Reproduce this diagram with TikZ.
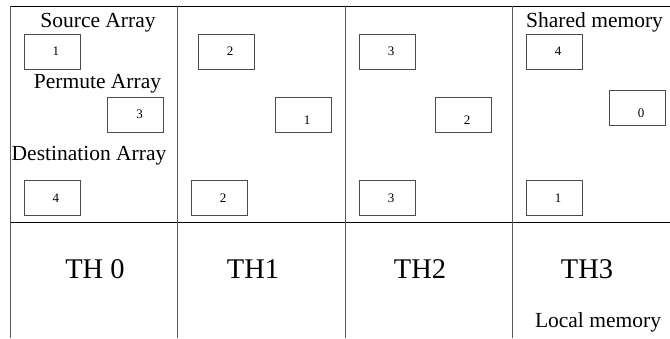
\documentclass[tikz,border=0pt]{standalone}
\usepackage{fontspec}
\setmainfont{Liberation Serif}
\usetikzlibrary{positioning}

\begin{document}
\begin{tikzpicture}[x=1pt, y=-1pt,
    cell/.style={rectangle, draw=black!70, line width=0.8pt, minimum width=56pt, minimum height=35pt,
                 inner sep=0pt, font=\fontsize{13}{15}\selectfont,
                 execute at begin node=\hspace*{8pt}},
    low/.style={text height=19pt, text depth=0pt},
    head/.style={anchor=base, inner sep=0pt, font=\fontsize{21.5}{25}\selectfont},
    thread/.style={anchor=base, inner sep=0pt, font=\fontsize{28.5}{32}\selectfont},
    rowline/.style={line width=0.9pt, black},
    colline/.style={line width=0.9pt, black!65}
]
\useasboundingbox (0,0) rectangle (670,338);

% frame
\draw[rowline] (10,6) -- (670,6);
\draw[rowline] (10,222) -- (670,222);
\foreach \xc in {10,177,345,512}
  \draw[colline] (\xc,6) -- (\xc,338);

% labels
\node[head]                   (src)    at (98,27)   {Source Array};
\node[head]                   (perm)   at (97.5,88) {Permute Array};
\node[head]                   (dst)    at (89,160)  {Destination Array};
\node[head, anchor=base west] (shared) at (526,27)  {Shared memory};
\node[head]                   (local)  at (598,327) {Local memory};

% source row
\node[cell] (s0) at (52,51.5)  {1};
\node[cell] (s1) at (226,51.5) {2};
\node[cell] (s2) at (387,51.5) {3};
\node[cell] (s3) at (554,51.5) {4};

% permute row
\node[cell]      (p0) at (135.5,114.5) {3};
\node[cell, low] (p1) at (303,114.5)   {1};
\node[cell, low] (p2) at (463,114.5)   {2};
\node[cell, low] (p3) at (637,107.5)   {0};

% destination row
\node[cell] (d0) at (52,198)  {4};
\node[cell] (d1) at (219,198) {2};
\node[cell] (d2) at (387,198) {3};
\node[cell] (d3) at (554,198) {1};

% threads
\node[thread] (th0) at (95,278)  {TH 0};
\node[thread] (th1) at (253,278) {TH1};
\node[thread] (th2) at (420,278) {TH2};
\node[thread] (th3) at (587,278) {TH3};
\end{tikzpicture}
\end{document}
